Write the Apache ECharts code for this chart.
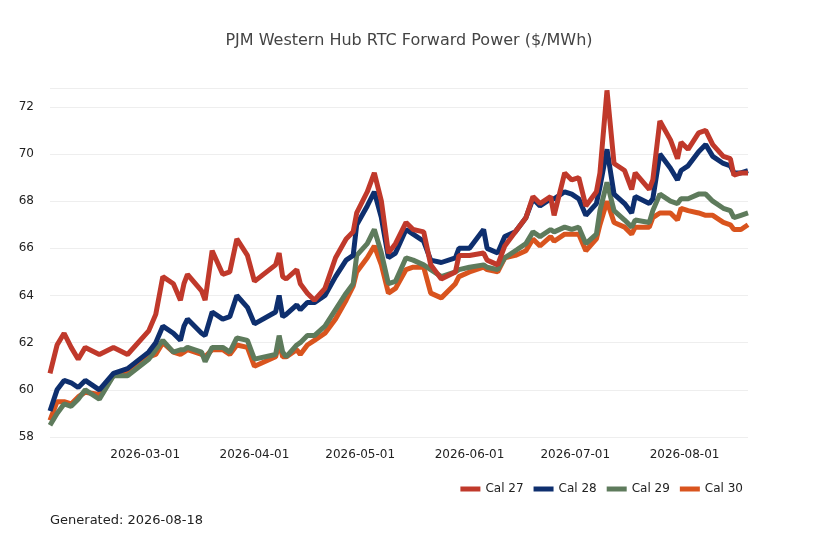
<!DOCTYPE html>
<html>
<head>
<meta charset="utf-8">
<script src="https://cdn.jsdelivr.net/npm/echarts@6/dist/echarts.min.js"></script>
<style>
  html, body { margin: 0; padding: 0; background: #fff; }
  #main { width: 818px; height: 545px; }
</style>
</head>
<body>
<div id="main"></div>
<script type="text/javascript">
    // sampled trade dates
    var dates = ['2026-02-02','2026-02-04','2026-02-06','2026-02-08','2026-02-10','2026-02-12','2026-02-16','2026-02-20','2026-02-24',
        '2026-03-02','2026-03-04','2026-03-06','2026-03-09','2026-03-11','2026-03-12','2026-03-13','2026-03-17','2026-03-18','2026-03-20',
        '2026-03-23','2026-03-25','2026-03-27','2026-03-30','2026-04-01','2026-04-07','2026-04-08','2026-04-09','2026-04-10','2026-04-13',
        '2026-04-14','2026-04-16','2026-04-18','2026-04-21','2026-04-24','2026-04-27','2026-04-29','2026-04-30','2026-05-03','2026-05-05',
        '2026-05-07','2026-05-09','2026-05-11','2026-05-14','2026-05-16','2026-05-19','2026-05-21','2026-05-24','2026-05-28','2026-05-29',
        '2026-06-01','2026-06-05','2026-06-06','2026-06-09','2026-06-11','2026-06-14','2026-06-17','2026-06-19','2026-06-21','2026-06-24',
        '2026-06-25','2026-06-28','2026-06-30','2026-07-02','2026-07-04','2026-07-07','2026-07-08','2026-07-10','2026-07-12','2026-07-15',
        '2026-07-17','2026-07-18','2026-07-22','2026-07-23','2026-07-25','2026-07-28','2026-07-30','2026-07-31','2026-08-02','2026-08-05',
        '2026-08-07','2026-08-09','2026-08-12','2026-08-14','2026-08-15','2026-08-17','2026-08-19'];
    var cal27 = [60.7,61.9,62.4,61.8,61.3,61.8,61.5,61.8,61.5,
        62.5,63.2,64.8,64.5,63.8,64.5,64.9,64.2,63.8,65.9,
        64.9,65.0,66.4,65.7,64.6,65.3,65.8,64.8,64.7,65.1,
        64.5,64.1,63.8,64.3,65.6,66.4,66.7,67.5,68.4,69.2,
        68.0,65.8,66.2,67.1,66.8,66.7,65.3,64.7,65.0,65.7,
        65.7,65.8,65.5,65.3,66.1,66.7,67.3,68.2,67.9,68.2,
        67.4,69.2,68.9,69.0,67.8,68.4,69.2,72.7,69.6,69.3,
        68.5,69.2,68.5,68.9,71.4,70.6,69.8,70.5,70.2,70.9,
        71.0,70.4,69.9,69.8,69.1,69.2,69.2];
    var cal28 = [59.1,60.0,60.4,60.3,60.1,60.4,60.0,60.7,60.9,
        61.6,62.0,62.7,62.4,62.1,62.7,63.0,62.4,62.3,63.3,
        63.0,63.1,64.0,63.5,62.8,63.3,64.0,63.1,63.2,63.6,
        63.4,63.7,63.7,64.0,64.8,65.5,65.7,67.0,67.8,68.4,
        67.3,65.6,65.8,66.8,66.6,66.3,65.5,65.4,65.6,66.0,
        66.0,66.8,66.0,65.8,66.5,66.7,67.3,68.1,67.8,68.1,
        68.1,68.4,68.3,68.1,67.4,67.9,68.6,70.2,68.3,67.9,
        67.5,68.2,67.9,68.1,70.0,69.4,68.9,69.3,69.5,70.1,
        70.4,69.9,69.6,69.5,69.2,69.2,69.3];
    var cal29 = [58.5,59.0,59.4,59.3,59.6,60.0,59.6,60.6,60.6,
        61.3,61.7,62.1,61.6,61.7,61.7,61.8,61.6,61.2,61.8,
        61.8,61.6,62.2,62.1,61.3,61.5,62.3,61.6,61.4,61.9,
        62.0,62.3,62.3,62.7,63.4,64.1,64.5,65.7,66.2,66.8,
        65.8,64.5,64.6,65.6,65.5,65.3,65.1,64.8,65.0,65.1,
        65.2,65.3,65.2,65.1,65.6,65.9,66.2,66.7,66.5,66.8,
        66.7,66.9,66.8,66.9,66.2,66.6,67.6,68.8,67.6,67.2,
        66.9,67.2,67.1,67.6,68.3,68.0,67.9,68.1,68.1,68.3,
        68.3,68.0,67.7,67.6,67.3,67.4,67.5];
    var cal30 = [58.7,59.5,59.5,59.4,59.7,59.9,59.8,60.6,60.7,
        61.4,61.5,62.0,61.6,61.5,61.6,61.7,61.5,61.4,61.7,
        61.7,61.5,61.9,61.8,61.0,61.4,62.0,61.4,61.4,61.7,
        61.5,61.9,62.1,62.4,63.0,63.8,64.4,65.0,65.6,66.1,
        65.3,64.1,64.3,65.1,65.2,65.2,64.1,63.9,64.5,64.8,
        65.0,65.2,65.1,65.0,65.6,65.7,65.9,66.4,66.1,66.5,
        66.3,66.6,66.6,66.6,65.9,66.4,67.0,68.0,67.1,66.9,
        66.6,66.9,66.9,67.3,67.5,67.5,67.2,67.7,67.6,67.5,
        67.4,67.4,67.1,67.0,66.8,66.8,67.0];
    var seriesNames = ['Cal 27', 'Cal 28', 'Cal 29', 'Cal 30'];
    var seriesColors = ['#c0392b', '#0e2f6e', '#5e7b5c', '#d9541e'];
    var monthTicks = ['2026-03-01','2026-04-01','2026-05-01','2026-06-01','2026-07-01','2026-08-01'];

    function toTime(d) { return Date.UTC(+d.slice(0, 4), +d.slice(5, 7) - 1, +d.slice(8, 10)); }
    function pad(n) { return (n < 10 ? '0' : '') + n; }
    function fmt(t) {
        var d = new Date(t);
        return d.getUTCFullYear() + '-' + pad(d.getUTCMonth() + 1) + '-' + pad(d.getUTCDate());
    }

    var allData = [cal27, cal28, cal29, cal30];
    var zs = [4, 3, 2, 1];
    var series = [];
    for (var s = 0; s < allData.length; s++) {
        var pts = [];
        for (var i = 0; i < dates.length; i++) {
            pts.push([toTime(dates[i]), allData[s][i]]);
        }
        series.push({
            name: seriesNames[s],
            type: 'line',
            data: pts,
            z: zs[s],
            showSymbol: false,
            symbol: 'none',
            lineStyle: { width: 5, color: seriesColors[s] },
            itemStyle: { color: seriesColors[s] }
        });
    }
    var tickTimes = monthTicks.map(toTime);

    var myChart = echarts.init(document.getElementById('main'));
    var option = {
        backgroundColor: '#fff',
        animation: false,
        title: {
            text: 'PJM Western Hub RTC Forward Power ($/MWh)',
            left: 'center',
            top: 28,
            textStyle: { fontFamily: 'DejaVu Sans', fontWeight: 'normal', fontSize: 16, color: '#444' }
        },
        legend: {
            data: seriesNames,
            right: 70,
            top: 478,
            icon: 'rect',
            itemWidth: 20,
            itemHeight: 5,
            itemGap: 10,
            textStyle: { fontFamily: 'DejaVu Sans', fontSize: 12, color: '#222' }
        },
        graphic: [{
            type: 'text',
            left: 50,
            top: 514,
            style: { text: 'Generated: 2026-08-18', font: '13px "DejaVu Sans"', fill: '#222' }
        }],
        grid: { left: 50, right: 70, top: 88, bottom: 108 },
        xAxis: {
            type: 'value',
            min: toTime('2026-02-02'),
            max: toTime('2026-08-19'),
            axisLine: { show: false },
            axisTick: { show: false },
            splitLine: { show: false },
            axisLabel: {
                customValues: tickTimes,
                formatter: function (v) { return fmt(v); },
                fontFamily: 'DejaVu Sans', fontSize: 12, color: '#222', margin: 12
            }
        },
        yAxis: {
            type: 'value',
            min: 58,
            max: 72.8,
            interval: 2,
            axisLine: { show: false },
            axisTick: { show: false },
            splitLine: { lineStyle: { color: '#eeeeee' } },
            axisLabel: { showMaxLabel: false, fontFamily: 'DejaVu Sans', fontSize: 12, color: '#222', margin: 16 }
        },
        series: series
    };
    myChart.setOption(option);
</script>
</body>
</html>
